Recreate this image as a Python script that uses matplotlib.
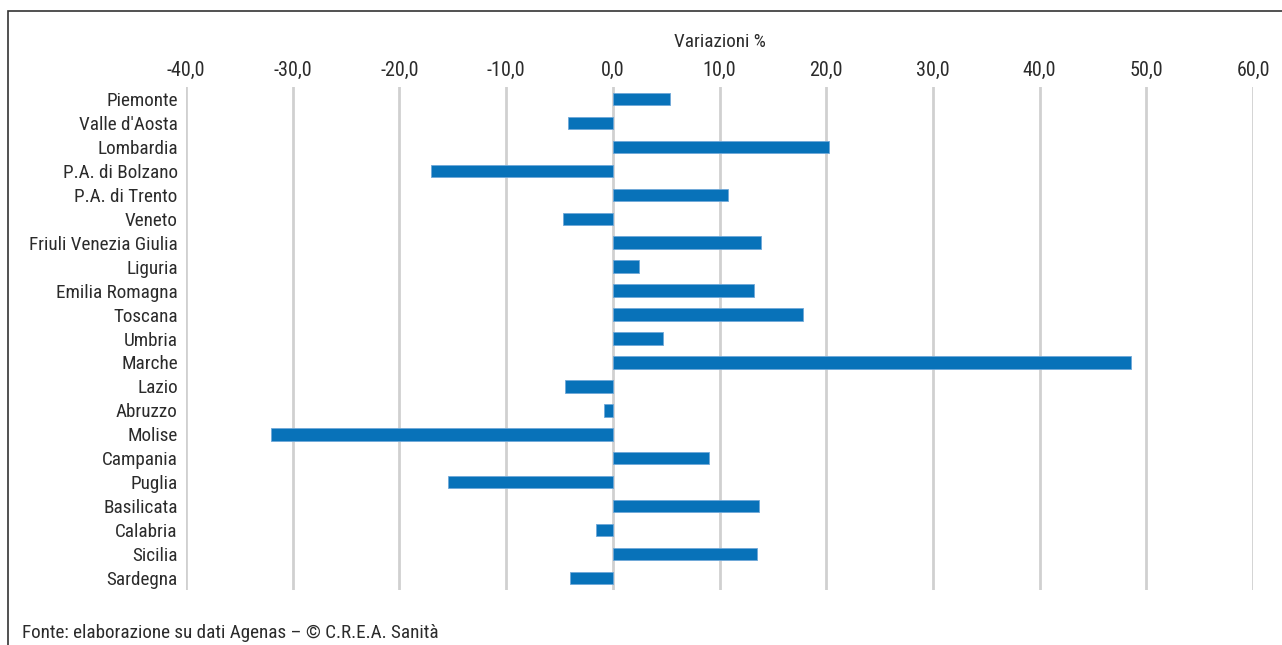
import matplotlib
matplotlib.use("Agg")
import matplotlib.pyplot as plt
from matplotlib.patches import Rectangle

regioni = ["Piemonte", "Valle d'Aosta", "Lombardia", "P.A. di Bolzano", "P.A. di Trento",
           "Veneto", "Friuli Venezia Giulia", "Liguria", "Emilia Romagna", "Toscana",
           "Umbria", "Marche", "Lazio", "Abruzzo", "Molise", "Campania", "Puglia",
           "Basilicata", "Calabria", "Sicilia", "Sardegna"]
variazioni = [5.4, -4.2, 20.3, -17.0, 10.8, -4.7, 13.9, 2.5, 13.2, 17.8,
              4.7, 48.6, -4.5, -0.8, -32.0, 9.0, -15.4, 13.7, -1.6, 13.5, -4.0]
x_ticks = [-40, -30, -20, -10, 0, 10, 20, 30, 40, 50, 60]

plt.rcParams["font.family"] = ["Roboto Condensed", "DejaVu Sans"]
txt = "#2b2b2b"
fs = 13.8

fig = plt.figure(figsize=(12.82, 6.45), dpi=100)
ax = fig.add_axes([186 / 1282, 55 / 645, 1067 / 1282, 503 / 645])

ax.barh(range(len(regioni)), variazioni, height=0.52, color="#0872b9",
        edgecolor="#6fa8d8", linewidth=0.6, zorder=3)

ax.set_xlim(-40, 60)
ax.set_ylim(len(regioni) - 0.5, -0.5)
ax.set_xticks(x_ticks)
ax.set_xticklabels([f"{v:.1f}".replace(".", ",") for v in x_ticks])
ax.set_yticks(range(len(regioni)))
ax.set_yticklabels(regioni)
ax.xaxis.tick_top()
ax.tick_params(axis="both", length=0, labelsize=fs, colors=txt)
ax.tick_params(axis="x", labelsize=14.5, pad=5)
ax.tick_params(axis="y", pad=6)
ax.grid(axis="x", color="#d0d0d0", linewidth=2, zorder=0)
for s in ax.spines.values():
    s.set_visible(False)

ax.set_xlabel("Variazioni %", fontsize=fs, color=txt, labelpad=10)
ax.xaxis.set_label_position("top")

# outer frame (top and left only visible)
fig.patches.append(Rectangle((8 / 1282, -0.1), 1.2, (645 - 11) / 645 + 0.1,
                             transform=fig.transFigure, fill=False,
                             edgecolor="#333333", linewidth=1.2))

fig.text(22 / 1282, 3 / 645, "Fonte: elaborazione su dati Agenas – © C.R.E.A. Sanità",
         fontsize=fs, color=txt, ha="left", va="bottom")

fig.savefig("out.png", dpi=100)
